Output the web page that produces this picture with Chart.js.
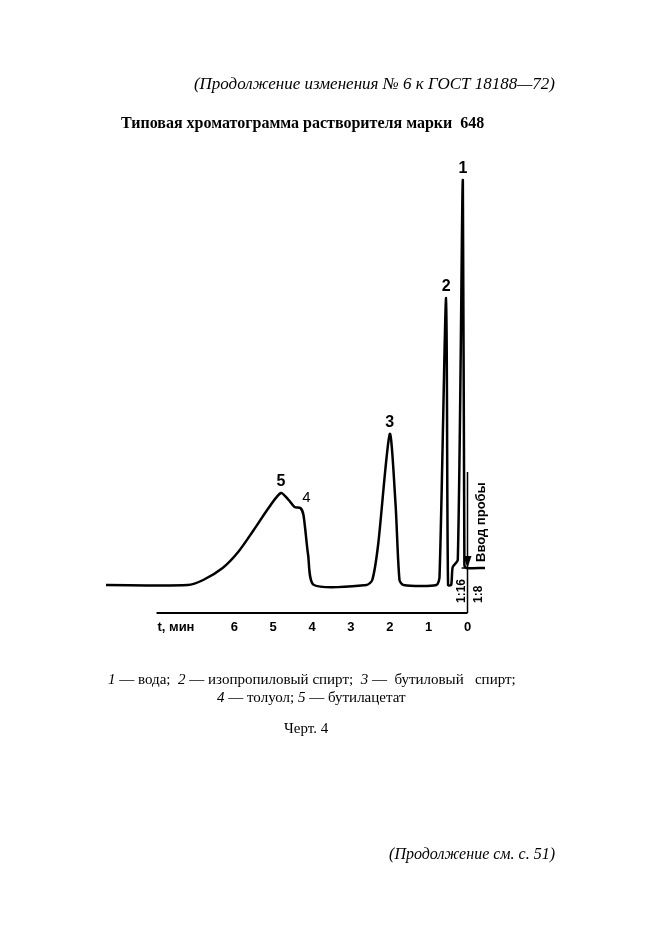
<!DOCTYPE html>
<html>
<head>
<meta charset="utf-8">
<script src="https://cdn.jsdelivr.net/npm/chart.js@4"></script>
<style>
  body { margin: 0; background: #fff; }
  #page { position: relative; width: 661px; height: 936px; font-family: "Liberation Serif", serif; color: #000; }
  #page div { position: absolute; white-space: nowrap; }
  canvas { position: absolute; left: 0; top: 0; }
</style>
</head>
<body>
<div id="page">
  <canvas id="chrom" width="661" height="936"></canvas>
  <div style="right:106px; top:74px; font-size:17px; font-style:italic;">(Продолжение изменения № 6 к ГОСТ 18188—72)</div>
  <div style="left:121px; top:114px; font-size:16px; font-weight:bold;">Типовая хроматограмма растворителя марки&nbsp; 648</div>
  <div style="left:108px; top:671px; font-size:15px;"><i>1</i> — вода;&nbsp; <i>2</i> — изопропиловый спирт;&nbsp; <i>3</i> —&nbsp; бутиловый&nbsp;&nbsp; спирт;</div>
  <div style="left:217px; top:689px; font-size:15px;"><i>4</i> — толуол; <i>5</i> — бутилацетат</div>
  <div style="left:284px; top:720px; font-size:15px;">Черт. 4</div>
  <div style="right:106px; top:845px; font-size:16px; font-style:italic;">(Продолжение см. с. 51)</div>
</div>
<script>
// retention time, min (axis runs right to left)
const timeMin = [9.3, 7.2, 6.8, 6.3, 5.9, 5.5, 5.1, 4.8, 4.6, 4.45, 4.3, 4.22, 4.1, 3.95,
  2.6, 2.45, 2.3, 2.0, 1.85, 1.75, 1.65, 0.8, 0.72, 0.55, 0.5, 0.42, 0.38, 0.25, 0.12, 0.08, 0.03, -0.45];
// detector signal above baseline
const signal = [0, 0, 5, 17, 33, 55, 78, 92, 85, 78, 77, 70, 30, 0,
  0, 5, 40, 151, 80, 5, 0, 0, 8, 287, 0, 0, 18, 25, 405, 20, 17, 17];
const tickValues = [6, 5, 4, 3, 2, 1, 0];
const peakLabels = [
  { t: 0.12, h: 405, text: "1", bold: true },
  { t: 0.55, h: 287, text: "2", bold: true },
  { t: 2.0, h: 151, text: "3", bold: true },
  { t: 4.8, h: 92, text: "5", bold: true },
  { t: 4.3, h: 77, text: "4", bold: false }
];
const injectionLine = [{ x: 0, y: 113 }, { x: 0, y: -28 }];

const decor = {
  id: "decor",
  afterDatasetsDraw(chart) {
    const { ctx, scales: { x, y } } = chart;
    const y0 = y.getPixelForValue(-28);
    ctx.save();
    ctx.strokeStyle = "#000";
    ctx.fillStyle = "#000";
    ctx.lineWidth = 2;
    ctx.beginPath();
    ctx.moveTo(x.getPixelForValue(8), y0);
    ctx.lineTo(x.getPixelForValue(0), y0);
    ctx.stroke();
    ctx.font = "bold 13px 'Liberation Sans', Arial";
    ctx.textAlign = "center";
    ctx.textBaseline = "top";
    tickValues.forEach((v) => ctx.fillText(String(v), x.getPixelForValue(v), y0 + 8));
    ctx.fillText("t, мин", x.getPixelForValue(7.5), y0 + 8);
    // arrow at injection point
    const ax = x.getPixelForValue(0), ay = y.getPixelForValue(17);
    ctx.beginPath();
    ctx.moveTo(ax - 4, ay - 12); ctx.lineTo(ax + 4, ay - 12); ctx.lineTo(ax, ay); ctx.closePath();
    ctx.fill();
    ctx.lineWidth = 1.5;
    ctx.beginPath();
    ctx.moveTo(x.getPixelForValue(0.15), ay); ctx.lineTo(x.getPixelForValue(-0.45), ay);
    ctx.stroke();
    peakLabels.forEach((p) => {
      ctx.font = (p.bold ? "bold 16px" : "15px") + " 'Liberation Sans', Arial";
      ctx.textBaseline = "bottom";
      ctx.fillText(p.text, x.getPixelForValue(p.t) + (p.bold ? 0 : 6), y.getPixelForValue(p.h) - 3);
    });
    const vText = (s, px, py, font) => {
      ctx.save();
      ctx.translate(px, py);
      ctx.rotate(-Math.PI / 2);
      ctx.font = font;
      ctx.textAlign = "left";
      ctx.textBaseline = "middle";
      ctx.fillText(s, 0, 0);
      ctx.restore();
    };
    vText("Ввод пробы", x.getPixelForValue(-0.35), ay - 6, "bold 13px 'Liberation Sans', Arial");
    vText("1:16", x.getPixelForValue(0.15), y0 - 10, "bold 12px 'Liberation Sans', Arial");
    vText("1:8", x.getPixelForValue(-0.3), y0 - 10, "bold 12px 'Liberation Sans', Arial");
    ctx.restore();
  }
};

new Chart(document.getElementById("chrom").getContext("2d"), {
  type: "line",
  data: {
    datasets: [
      {
        data: timeMin.map((t, i) => ({ x: t, y: signal[i] })),
        borderColor: "#000",
        borderWidth: 2.5,
        pointRadius: 0,
        tension: 0.25
      },
      {
        data: injectionLine,
        borderColor: "#000",
        borderWidth: 1.5,
        pointRadius: 0
      }
    ]
  },
  options: {
    responsive: false,
    animation: false,
    layout: { padding: { left: 106, right: 176, top: 170, bottom: 323 } },
    plugins: { legend: { display: false }, tooltip: { enabled: false } },
    scales: {
      x: { type: "linear", reverse: true, min: -0.45, max: 9.3, display: false },
      y: { min: -28, max: 415, display: false }
    }
  },
  plugins: [decor]
});
</script>
</body>
</html>
